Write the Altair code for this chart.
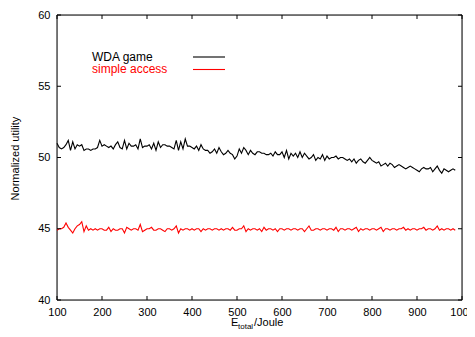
import altair as alt
import pandas as pd

x_vals = list(range(100, 990, 5))

wda_game = [
    51.0, 50.7, 50.6, 50.7, 50.9, 51.2, 50.5, 51.1, 50.6, 50.9, 50.8, 50.9, 50.5, 50.6, 50.6, 50.5, 50.6, 50.6, 50.7, 51.2,
    50.8, 50.9, 50.8, 50.7, 50.8, 50.6, 50.9, 51.1, 50.7, 50.6, 51.2, 50.6, 51.0, 50.8, 50.8, 50.9, 50.6, 51.3, 50.7, 50.8,
    50.8, 50.9, 50.6, 51.0, 50.5, 51.1, 50.7, 50.9, 50.9, 50.8, 50.8, 50.7, 50.6, 51.2, 50.5, 51.1, 50.6, 51.3, 50.8, 50.8,
    50.7, 50.6, 50.8, 50.5, 50.9, 50.6, 50.5, 50.5, 50.3, 50.4, 50.6, 50.3, 50.7, 50.4, 50.2, 50.3, 50.5, 50.3, 50.2, 49.9,
    50.1, 50.6, 50.3, 50.7, 50.5, 50.2, 50.5, 50.3, 50.2, 50.4, 50.4, 50.3, 50.3, 50.2, 50.2, 50.3, 50.1, 50.4, 50.2, 50.2,
    50.4, 50.0, 50.5, 49.9, 50.3, 50.1, 50.3, 50.0, 50.4, 50.0, 50.3, 50.1, 49.9, 50.0, 50.2, 49.8, 50.0, 49.9, 50.2, 49.8,
    50.1, 49.9, 50.0, 50.0, 50.1, 49.9, 50.0, 50.0, 49.9, 49.8, 49.9, 49.7, 49.9, 49.6, 49.8, 49.9, 49.7, 49.6, 49.8, 50.0,
    49.8, 49.7, 49.6, 49.7, 49.4, 49.5, 49.6, 49.4, 49.6, 49.5, 49.3, 49.4, 49.5, 49.4, 49.3, 49.2, 49.3, 49.4, 49.3, 49.2,
    49.1, 49.0, 49.2, 49.3, 49.2, 49.2, 49.3, 49.0, 49.2, 49.4, 49.1, 48.9, 49.2, 49.1, 49.0, 49.1, 49.2, 49.1,
]

simple_access = [
    44.9, 45.0, 45.0, 45.1, 45.4, 45.1, 44.9, 44.7, 45.0, 45.2, 45.3, 45.5, 44.8, 45.2, 44.9, 45.0, 44.9, 45.0, 44.9, 45.0,
    45.0, 44.9, 44.9, 45.1, 44.8, 45.0, 44.9, 44.9, 45.0, 45.0, 44.7, 45.1, 45.0, 44.9, 45.0, 45.0, 44.9, 45.3, 44.8, 44.9,
    45.0, 45.0, 45.1, 44.9, 44.9, 45.0, 45.0, 44.9, 44.8, 45.0, 45.0, 44.9, 45.0, 45.2, 44.7, 45.0, 44.9, 45.0, 45.0, 44.9,
    45.0, 44.9, 45.0, 45.0, 44.8, 45.0, 44.9, 45.0, 45.0, 44.9, 45.0, 45.0, 44.9, 45.0, 44.9, 45.0, 45.0, 44.9, 45.1, 44.9,
    44.9, 45.0, 45.0, 45.2, 44.8, 45.0, 44.9, 45.0, 45.0, 44.9, 45.0, 44.8, 45.1, 44.9, 45.0, 45.0, 44.9, 45.0, 44.8, 45.0,
    45.0, 44.9, 45.0, 45.0, 44.9, 45.0, 45.0, 44.9, 45.0, 45.0, 44.8, 45.0, 45.2, 44.9, 44.9, 45.0, 45.0, 44.9, 45.0, 45.0,
    44.9, 45.0, 45.0, 44.9, 45.1, 44.8, 45.0, 45.0, 44.9, 45.0, 45.0, 44.9, 45.0, 45.1, 44.8, 45.0, 44.9, 45.0, 45.0, 44.9,
    45.0, 45.0, 44.9, 45.0, 45.1, 44.8, 45.0, 45.0, 44.9, 45.0, 45.0, 44.9, 45.0, 45.0, 45.1, 44.9, 45.0, 44.9, 45.0, 45.0,
    44.9, 45.0, 45.0, 45.1, 44.9, 45.0, 45.0, 44.9, 45.0, 45.2, 44.9, 45.0, 44.9, 45.0, 45.0, 44.9, 45.0, 44.9,
]

series_names = ["WDA game", "simple access"]
series_colors = ["#000000", "#ff0000"]
x_ticks = [100, 200, 300, 400, 500, 600, 700, 800, 900, 1000]
y_ticks = [40, 45, 50, 55, 60]

FONT = "Liberation Sans"
W, H = 405, 285

df = pd.DataFrame({
    "x": x_vals * 2,
    "y": wda_game + simple_access,
    "series": [series_names[0]] * len(x_vals) + [series_names[1]] * len(x_vals),
})

xs = alt.Scale(domain=[100, 1000], nice=False, zero=False)
ys = alt.Scale(domain=[40, 60], nice=False, zero=False)

x_axis = alt.Axis(values=x_ticks, title=None, ticks=False, domain=False, format="d",
                  grid=False, labelPadding=6, labelFontSize=11, labelFont=FONT,
                  labelColor="black", labelFlush=False, labelOverlap=False)
y_axis = alt.Axis(values=y_ticks, title="Normalized utility", ticks=False, format="d",
                  domain=False, grid=False, labelPadding=7, labelFontSize=11,
                  labelFont=FONT, labelColor="black", titleFont=FONT,
                  titleFontSize=11, titleFontWeight="normal", titleColor="black",
                  titleX=-42, titleY=143, titleAngle=-90, titleAlign="center",
                  titleBaseline="middle")

lines = alt.Chart(df).mark_line(strokeWidth=1.1).encode(
    x=alt.X("x:Q", scale=xs, axis=x_axis),
    y=alt.Y("y:Q", scale=ys, axis=y_axis),
    color=alt.Color("series:N", scale=alt.Scale(domain=series_names, range=series_colors), legend=None),
    detail="series:N",
)

xt = pd.DataFrame({"x": x_ticks})
yt = pd.DataFrame({"y": y_ticks})
TL = 4
xtick_b = alt.Chart(xt).mark_rule(color="black", strokeWidth=1).encode(
    x=alt.X("x:Q", scale=xs, axis=x_axis), y=alt.value(H), y2=alt.value(H - TL))
xtick_t = alt.Chart(xt).mark_rule(color="black", strokeWidth=1).encode(
    x=alt.X("x:Q", scale=xs, axis=x_axis), y=alt.value(0), y2=alt.value(TL))
ytick_l = alt.Chart(yt).mark_rule(color="black", strokeWidth=1).encode(
    y=alt.Y("y:Q", scale=ys, axis=y_axis), x=alt.value(0), x2=alt.value(TL))
ytick_r = alt.Chart(yt).mark_rule(color="black", strokeWidth=1).encode(
    y=alt.Y("y:Q", scale=ys, axis=y_axis), x=alt.value(W), x2=alt.value(W - TL))

frame = alt.Chart(pd.DataFrame({"f": [0]})).mark_rect(fill=None, stroke="black", strokeWidth=1).encode(
    x=alt.value(0), x2=alt.value(W), y=alt.value(0), y2=alt.value(H))

leg = pd.DataFrame({"label": series_names, "color": series_colors})
leg_text0 = alt.Chart(leg.iloc[[0]]).mark_text(align="left", baseline="alphabetic", font=FONT,
                                                 fontSize=12, color=series_colors[0]).encode(
    text="label:N", x=alt.value(35), y=alt.value(45.5))
leg_text1 = alt.Chart(leg.iloc[[1]]).mark_text(align="left", baseline="alphabetic", font=FONT,
                                                 fontSize=12, color=series_colors[1]).encode(
    text="label:N", x=alt.value(35), y=alt.value(58))
leg_line0 = alt.Chart(leg.iloc[[0]]).mark_rule(color=series_colors[0], strokeWidth=1.1).encode(
    x=alt.value(136), x2=alt.value(168), y=alt.value(42))
leg_line1 = alt.Chart(leg.iloc[[1]]).mark_rule(color=series_colors[1], strokeWidth=1.1).encode(
    x=alt.value(136), x2=alt.value(168), y=alt.value(54.5))

title_parts = pd.DataFrame({"t": ["E", "total", "/Joule"]})
xt_E = alt.Chart(title_parts.iloc[[0]]).mark_text(align="left", baseline="alphabetic", font=FONT,
                                                   fontSize=11, color="black").encode(
    text="t:N", x=alt.value(174), y=alt.value(311))
xt_sub = alt.Chart(title_parts.iloc[[1]]).mark_text(align="left", baseline="alphabetic", font=FONT,
                                                     fontSize=8, color="black").encode(
    text="t:N", x=alt.value(181), y=alt.value(314))
xt_J = alt.Chart(title_parts.iloc[[2]]).mark_text(align="left", baseline="alphabetic", font=FONT,
                                                   fontSize=11, color="black").encode(
    text="t:N", x=alt.value(197), y=alt.value(311))

chart = alt.layer(
    frame, lines, xtick_b, xtick_t, ytick_l, ytick_r,
    leg_text0, leg_text1, leg_line0, leg_line1,
    xt_E, xt_sub, xt_J,
).properties(
    width=W, height=H,
    autosize=alt.AutoSizeParams(type="none"),
    padding={"left": 49, "top": 7, "right": 5, "bottom": 31},
).configure_view(
    stroke=None, clip=False
).configure(background="white")

chart.save("out.html", embed_options={"renderer": "svg", "actions": False})
